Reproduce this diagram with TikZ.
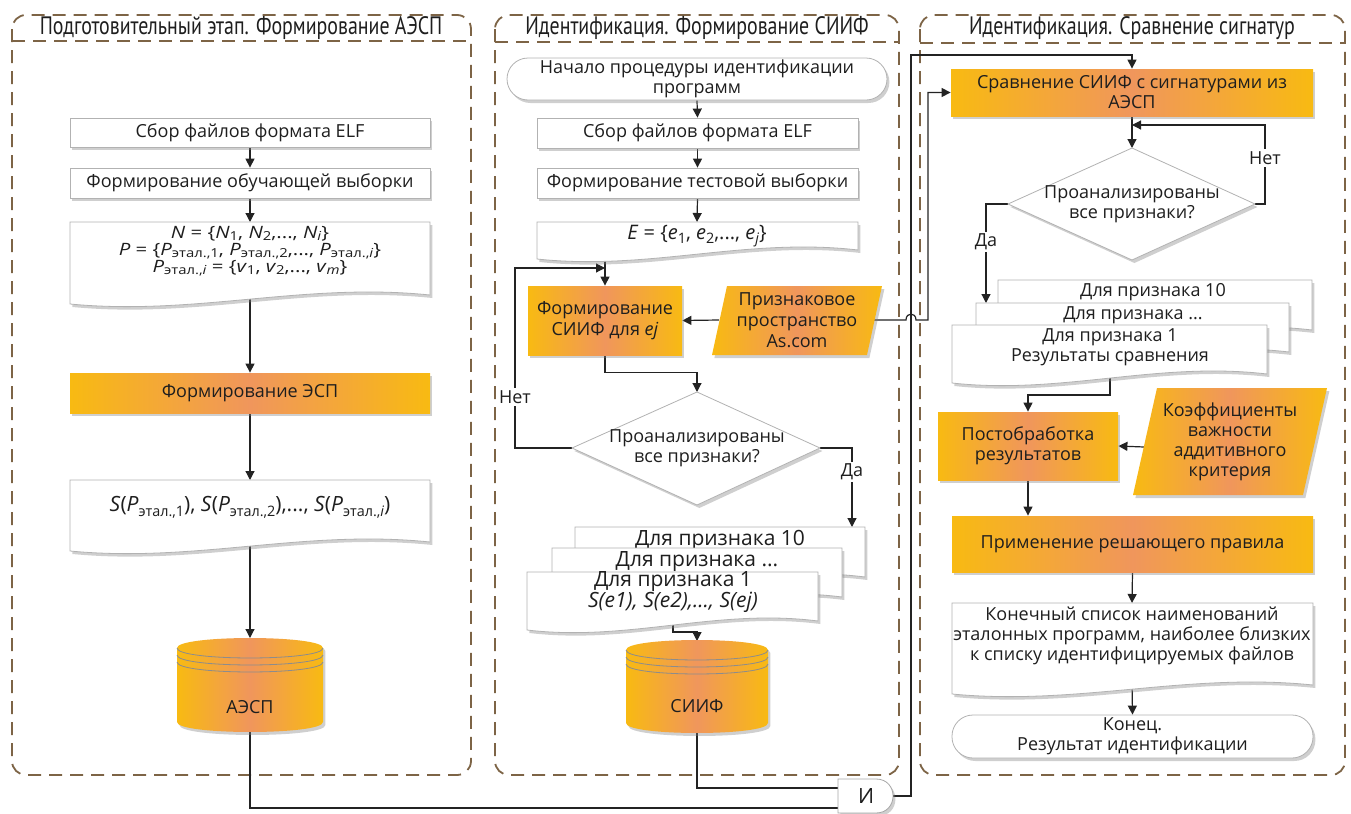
\documentclass[tikz,border=0pt]{standalone}
\usepackage{fontspec}
\setmainfont{Open Sans}
\newfontfamily\titlefont{PT Sans}
\usetikzlibrary{arrows.meta,shadows,fit}
\pgfdeclarelayer{bg}
\pgfsetlayers{bg,main}
\definecolor{framec}{RGB}{125,100,70}
\definecolor{ygold}{RGB}{248,186,18}
\definecolor{oorng}{RGB}{240,150,92}
\definecolor{lnc}{RGB}{35,35,35}
\definecolor{txtc}{RGB}{30,30,30}
\newcommand{\lsub}[1]{\raisebox{-0.45ex}{\fontsize{7.2}{7}\selectfont #1}}
\newcommand{\ssub}[1]{\raisebox{-0.25ex}{\fontsize{6.2}{6}\selectfont #1}}
\newcommand{\wide}[1]{\scalebox{1.2}[1]{\fontsize{8.5}{9}\selectfont #1}}
\newcommand{\ttl}[1]{\scalebox{0.79}[1]{\titlefont\fontsize{12.6}{12.6}\selectfont #1}}
\newcommand{\docshape}[5][wdoc]{%
  \path[#1] (#2,#3) -- (#4,#3) -- (#4,#5-9) .. controls ({#4-0.35*(#4-#2)},{#5-22}) and ({#2+0.35*(#4-#2)},{#5+12}) .. (#2,#5) -- cycle;}
\newcommand{\cylshape}[4]{%
  \path[odshape] ({#1-#4},#2) -- ({#1-#4},#3) .. controls ({#1-#4},{#3+13.3}) and ({#1+#4},{#3+13.3}) .. ({#1+#4},#3) -- ({#1+#4},#2) .. controls ({#1+#4},{#2-13.3}) and ({#1-#4},{#2-13.3}) .. ({#1-#4},#2) -- cycle;
  \foreach \dd in {0,7,14} \draw[draw=black!45, line width=0.4pt] ({#1-#4},{#2+\dd}) .. controls ({#1-#4},{#2+\dd+13.3}) and ({#1+#4},{#2+\dd+13.3}) .. ({#1+#4},{#2+\dd});}
\tikzset{
  shd/.style={drop shadow={opacity=0.38, shadow xshift=1.2pt, shadow yshift=-1.5pt}},
  wbox/.style={draw=black!30, fill=white, shd, inner sep=0pt},
  obox/.style={draw=none, left color=ygold, right color=ygold, middle color=oorng, shd, inner sep=0pt},
  term/.style={wbox, rounded corners=10.5pt},
  wdoc/.style={draw=black!30, fill=white, shd},
  odshape/.style={draw=none, left color=ygold, right color=ygold, middle color=oorng, shd},
  txt/.style={align=center, text=txtc, inner sep=0pt},
  frml/.style={txt, anchor=base},
  conn/.style={draw=lnc, line width=0.6pt},
  arr/.style={conn, -{Triangle[width=4.5pt,length=4.5pt]}},
  frm/.style={draw=framec, line width=0.9pt, dash pattern=on 6.5pt off 4pt},
  lbl/.style={fill=white, inner sep=1pt, text=txtc},
}
\begin{document}
\begin{tikzpicture}[x=0.5pt,y=-0.5pt,font=\fontsize{9}{10}\selectfont]
\useasboundingbox (0,0) rectangle (1351,814);
% ---------- left column ----------
\node[wbox, fit={(70,118) (430,147)}] (L1) {};
\node[txt] (L1x) at (L1.center) {Сбор файлов формата ELF};
\node[wbox, fit={(70,168) (430,198)}] (L2) {};
\node[txt] (L2x) at (L2.center) {Формирование обучающей выборки};
\docshape{70}{222}{430}{304}
\node[frml] (L3n) at (250,238) {\wide{\textit{N} = \{\textit{N}\ssub{1}, \textit{N}\ssub{2},..., \textit{N}\ssub{\textit{i}}\}}};
\node[frml] (L3p) at (250,255) {\wide{\textit{P} = \{\textit{P}\ssub{этал.,1}, \textit{P}\ssub{этал.,2},..., \textit{P}\ssub{этал.,\textit{i}}\}}};
\node[frml] (L3q) at (250,272) {\wide{\textit{P}\ssub{этал.,\textit{i}} = \{\textit{v}\ssub{1}, \textit{v}\ssub{2},..., \textit{v}\ssub{\textit{m}}\}}};
\node[obox, fit={(70,373) (430,413)}] (L4) {};
\node[txt] (L4x) at (L4.center) {Формирование ЭСП};
\docshape{70}{480}{430}{551}
\node[txt, font=\fontsize{10.5}{12}\selectfont] (L5) at (250,507) {\textit{S}(\textit{P}\lsub{этал.,1}), \textit{S}(\textit{P}\lsub{этал.,2}),..., \textit{S}(\textit{P}\lsub{этал.,\textit{i}})};
\cylshape{250}{648}{722}{73}
\node[txt] (L6) at (250,707) {АЭСП};
\coordinate (L3t) at (250,222);
\coordinate (L3b) at (250,292);
\coordinate (L5t) at (250,480);
\coordinate (L5b) at (250,540);
\coordinate (L6t) at (250,638);
\coordinate (L6b) at (250,732);
% ---------- middle column ----------
\node[term, fit={(507,58) (887,100)}] (M0) {};
\node[txt] (M0x) at (M0.center) {Начало процедуры идентификации\\программ};
\node[wbox, fit={(537,118) (858,148)}] (M1) {};
\node[txt] (M1x) at (M1.center) {Сбор файлов формата ELF};
\node[wbox, fit={(537,168) (858,198)}] (M2) {};
\node[txt] (M2x) at (M2.center) {Формирование тестовой выборки};
\docshape{537}{222}{858}{259}
\node[txt, font=\fontsize{10}{11}\selectfont] (M3) at (697,236) {\textit{E} = \{\textit{e}\lsub{1}, \textit{e}\lsub{2},..., \textit{e}\lsub{\textit{j}}\}};
\node[obox, fit={(528,286) (682,355)}] (M4) {};
\node[txt, font=\fontsize{9}{10.5}\selectfont] (M4x) at (M4.center) {Формирование\\СИИФ для \textit{ej}};
\path[odshape] (712,355) -- (727,286) -- (882,286) -- (867,355) -- cycle;
\node[txt, font=\fontsize{9}{10.5}\selectfont] (M5) at (797,320) {Признаковое\\пространство\\As.com};
\path[draw=black!30, fill=white, shd] (572,448) -- (697,392) -- (820,448) -- (697,505) -- cycle;
\node[txt] (D1) at (697,448) {Проанализированы\\все признаки?};
\docshape{575}{527}{865}{586}
\node[txt, font=\fontsize{10.5}{12}\selectfont] (M6a) at (720,540) {Для признака 10};
\docshape{552}{548}{842}{606}
\node[txt, font=\fontsize{10.5}{12}\selectfont] (M6b) at (697,562) {Для признака ...};
\docshape{527}{572}{818}{630}
\node[txt, font=\fontsize{10.5}{10.5}\selectfont] (M6c) at (673,592) {Для признака 1\\\textit{S(e1), S(e2),..., S(ej)}};
\cylshape{697}{650}{723}{71}
\node[txt] (M7) at (697,706) {СИИФ};
\coordinate (M3t) at (697,222);
\coordinate (M3b) at (605,250);
\coordinate (M4in) at (605,268);
\coordinate (M5L) at (719,320);
\coordinate (M5R) at (873,320);
\coordinate (D1t) at (697,392);
\coordinate (D1l) at (572,448);
\coordinate (D1r) at (820,448);
\coordinate (M6top) at (852,527);
\coordinate (M6out) at (673,620);
\coordinate (M7t) at (697,641);
\coordinate (M7b) at (697,733);
% ---------- AND node ----------
\path[draw=black!35, fill=white, shd] (838,779) -- (876,779) .. controls (898.7,779) and (898.7,813) .. (876,813) -- (838,813) -- cycle;
\node[txt, font=\fontsize{10.5}{12}\selectfont] (AND) at (866,796) {И};
\coordinate (ANDin1) at (838,788);
\coordinate (ANDin2) at (838,808);
\coordinate (ANDout) at (893,796);
% ---------- right column ----------
\node[obox, fit={(951,69) (1313,116)}] (R1) {};
\node[txt] (R1x) at (R1.center) {Сравнение СИИФ с сигнатурами из\\АЭСП};
\path[draw=black!30, fill=white, shd] (1008,204) -- (1132,148) -- (1255,204) -- (1132,260) -- cycle;
\node[txt] (D2) at (1132,204) {Проанализированы\\все признаки?};
\docshape{998}{280}{1312}{339}
\node[txt] (R3a) at (1153,292) {Для признака 10};
\docshape{976}{303}{1289}{361}
\node[txt] (R3b) at (1133,315) {Для признака ...};
\docshape{952}{325}{1267}{383}
\node[txt] (R3c) at (1110,347) {Для признака 1\\Результаты сравнения};
\node[obox, fit={(938,412) (1118,480)}] (R4) {};
\node[txt] (R4x) at (R4.center) {Постобработка\\результатов};
\path[odshape] (1133,495) -- (1157,388) -- (1327,388) -- (1303,495) -- cycle;
\node[txt] (R5) at (1230,442) {Коэффициенты\\важности\\аддитивного\\критерия};
\node[obox, fit={(952,516) (1313,572)}] (R6) {};
\node[txt] (R6x) at (R6.center) {Применение решающего правила};
\docshape{952}{603}{1313}{694}
\node[txt] (R7) at (1132,636) {Конечный список наименований\\эталонных программ, наиболее близких\\к списку идентифицируемых файлов};
\node[term, fit={(952,715) (1313,758)}] (R8) {};
\node[txt] (R8x) at (R8.center) {Конец.\\Результат идентификации};
\coordinate (D2t) at (1132,148);
\coordinate (D2l) at (1008,204);
\coordinate (D2r) at (1255,204);
\coordinate (R1in) at (1132,125);
\coordinate (R3top) at (986,303);
\coordinate (R3out) at (1110,374);
\coordinate (R5L) at (1144,447);
\coordinate (R7t) at (1132,603);
\coordinate (R7b) at (1132,682);
% ---------- background: frames and connectors ----------
\begin{pgfonlayer}{bg}
\draw[frm, rounded corners=7pt] (12,15) rectangle (471,775);
\draw[frm] (12,41) -- (471,41);
\draw[frm, rounded corners=7pt] (495,15) rectangle (899,775);
\draw[frm] (495,42) -- (899,42);
\draw[frm, rounded corners=7pt] (920,15) rectangle (1345,775);
\draw[frm] (920,43) -- (1345,43);
\node[txt] (T1) at (241,28) {\ttl{Подготовительный этап. Формирование АЭСП}};
\node[txt] (T2) at (697,28) {\ttl{Идентификация. Формирование СИИФ}};
\node[txt] (T3) at (1132,28) {\ttl{Идентификация. Сравнение сигнатур}};
% left
\draw[arr] (L1.south) -- (L2.north);
\draw[arr] (L2.south) -- (L3t);
\draw[arr] (L3b) -- (L4.north);
\draw[arr] (L4.south) -- (L5t);
\draw[arr] (L5b) -- (L6t);
\draw[conn] (L6b) |- (ANDin2);
% middle
\draw[arr] (M0.south) -- (M1.north);
\draw[arr] (M1.south) -- (M2.north);
\draw[arr] (M2.south) -- (M3t);
\draw[arr] (M3b) -- (M4.north);
\draw[arr] (M5L) -- (M4.east);
\draw[arr] (M4.south) -- ++(0,17) -| (D1t);
\draw[arr] (D1l) -- (515,448) -- (515,268) -- (M4in);
\node[lbl] (N1) at (515,397) {Нет};
\draw[arr] (D1r) -| (M6top);
\node[lbl] (Y1) at (852,472) {Да};
\draw[arr] (M6out) -- (673,632) -| (M7t);
\draw[conn] (M7b) |- (ANDin1);
\draw[arr] (ANDout) -- (911,796) -- (911,55) -| (R1.north);
\draw[arr] (M5R) -- (906,320) .. controls (906,312) and (916,312) .. (916,320) -- (928,320) |- (R1.west);
% right
\draw[arr] (R1.south) -- (D2t);
\draw[arr] (D2r) -- (1265,204) -- (1265,125) -- (R1in);
\node[lbl] (N2) at (1265,158) {Нет};
\draw[arr] (D2l) -| (R3top);
\node[lbl] (Y2) at (986,242) {Да};
\draw[arr] (R3out) -- (1110,395) -| (R4.north);
\draw[arr] (R5L) -- (R4.east);
\draw[arr] (R4.south) -- (R4.south |- R6.north);
\draw[arr] (R6.south) -- (R7t);
\draw[arr] (R7b) -- (R8.north);
\end{pgfonlayer}
\end{tikzpicture}
\end{document}
